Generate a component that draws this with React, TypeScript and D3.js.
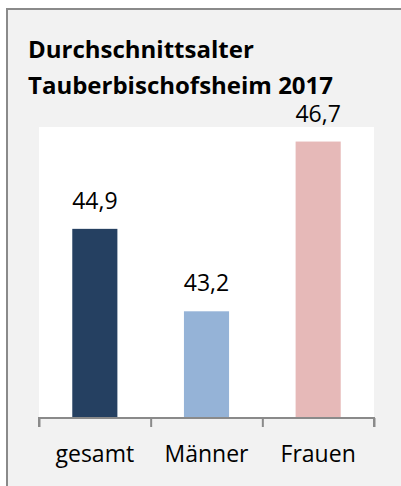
import { useEffect, useRef } from 'react';
import * as d3 from 'd3';

const categories = ['gesamt', 'Männer', 'Frauen'];
const values = [44.9, 43.2, 46.7];
const barColors = ['#254061', '#95b3d7', '#e6b9b8'];
const titleLines = ['Durchschnittsalter', 'Tauberbischofsheim 2017'];
const yDomain = [41, 47];

export default function App() {
  const svgRef = useRef<SVGSVGElement>(null);
  const width = 401;
  const height = 486;

  useEffect(() => {
    const svg = d3.select(svgRef.current);
    svg.selectAll('*').remove();

    const plot = { left: 39, right: 374, top: 127, bottom: 418 };
    const font = '"Open Sans", sans-serif';

    // Hintergrund + Rahmen (nur oben/links sichtbar)
    svg.append('rect')
      .attr('width', width)
      .attr('height', height)
      .attr('fill', '#ffffff');
    svg.append('rect')
      .attr('x', 7)
      .attr('y', 9)
      .attr('width', width)
      .attr('height', height)
      .attr('fill', '#f2f2f2')
      .attr('stroke', '#8a8a8a')
      .attr('stroke-width', 2);

    // Plotfläche
    svg.append('rect')
      .attr('x', plot.left)
      .attr('y', plot.top)
      .attr('width', plot.right - plot.left)
      .attr('height', plot.bottom - plot.top)
      .attr('fill', '#ffffff');

    // Titel
    svg.append('g')
      .selectAll('text')
      .data(titleLines)
      .enter()
      .append('text')
      .attr('x', 28)
      .attr('y', (d, i) => 58 + i * 36)
      .attr('font-family', font)
      .attr('font-weight', 'bold')
      .attr('font-size', '24px')
      .attr('fill', '#000')
      .text(d => d);

    const x = d3.scaleBand()
      .domain(categories)
      .range([plot.left, plot.right])
      .paddingInner(0.596)
      .paddingOuter(0.298);

    const y = d3.scaleLinear()
      .domain(yDomain)
      .range([plot.bottom, plot.top]);

    const data = categories.map((c, i) => ({ cat: c, value: values[i], color: barColors[i] }));

    svg.append('g')
      .selectAll('rect')
      .data(data)
      .enter()
      .append('rect')
      .attr('x', d => x(d.cat)!)
      .attr('y', d => y(d.value))
      .attr('width', x.bandwidth())
      .attr('height', d => plot.bottom - y(d.value))
      .attr('fill', d => d.color);

    // Werte
    svg.append('g')
      .selectAll('text')
      .data(data)
      .enter()
      .append('text')
      .attr('x', d => x(d.cat)! + x.bandwidth() / 2)
      .attr('y', d => y(d.value) - 20)
      .attr('text-anchor', 'middle')
      .attr('font-family', font)
      .attr('font-size', '23px')
      .attr('fill', '#000')
      .text(d => d3.format('.1f')(d.value).replace('.', ','));

    // x-Achse
    const edges = d3.scaleLinear()
      .domain([0, categories.length])
      .range([plot.left, plot.right]);

    const axis = svg.append('g')
      .attr('transform', `translate(0,${plot.bottom})`)
      .call(d3.axisBottom(edges).ticks(categories.length).tickSize(9).tickFormat(() => ''));
    axis.selectAll('path, line')
      .attr('stroke', '#8a8a8a')
      .attr('stroke-width', 2);
    axis.select('.domain')
      .attr('d', `M${plot.left},9V0H${plot.right}V9`);

    svg.append('g')
      .selectAll('text')
      .data(categories)
      .enter()
      .append('text')
      .attr('x', d => x(d)! + x.bandwidth() / 2)
      .attr('y', 462)
      .attr('text-anchor', 'middle')
      .attr('font-family', font)
      .attr('font-size', '23px')
      .attr('fill', '#000')
      .text(d => d);
  }, []);

  return (
    <svg
      ref={svgRef}
      width={width}
      height={height}
      style={{ position: 'absolute', left: 0, top: 0, display: 'block' }}
    />
  );
}
